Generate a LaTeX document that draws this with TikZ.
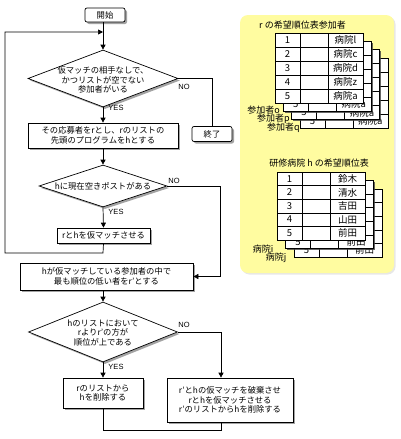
\documentclass[tikz,border=0pt]{standalone}
\usepackage{fontspec}
\setmainfont{Noto Sans CJK JP}
\newfontfamily\yesno{Liberation Sans}
\usetikzlibrary{shapes.geometric,arrows.meta,shadows,calc}
\definecolor{panel}{RGB}{255,252,160}
\definecolor{shd}{RGB}{140,140,140}

\newcommand{\tabframe}[2]{%
\fill[white, drop shadow={shadow xshift=1.2pt,shadow yshift=-1.2pt,fill=black!75,opacity=0.8}] (0,0) rectangle (88,5*#1);
\draw[tl] (0,0) rectangle (88,5*#1);
\foreach \k in {1,...,4} \draw[tl] (0,\k*#1) -- (88,\k*#1);
\draw[tl] (25,0) -- (25,5*#1) (53,0) -- (53,5*#1);}

\newcommand{\rtab}[5]{%
\begin{scope}[shift={(#1,#2)}]
\tabframe{#3}{}
\foreach \n [count=\i] in {#4} {
 \node[tabt] (#5n\i) at (12.5,{(\i-0.5)*#3}) {\i};
 \node[tabt] (#5m\i) at (70.5,{(\i-0.5)*#3}) {\n};
}
\end{scope}}

\newcommand{\rtabback}[5]{%
\begin{scope}[shift={(#1,#2)}]
\tabframe{#3}{}
\node[tabt] (#5n5) at (12.5,{4.5*#3}) {5};
\node[tabt] (#5m5) at (70.5,{4.5*#3}) {#4};
\end{scope}}

\begin{document}
\begin{tikzpicture}[x=1pt,y=-1pt,
  every node/.style={font=\fontsize{8.3}{9.8}\selectfont, inner sep=0pt},
  box/.style={draw, fill=white, line width=0.7pt, align=center,
    drop shadow={shadow xshift=2pt,shadow yshift=-2pt,fill=shd,opacity=0.8}},
  rbox/.style={box, rounded corners=2pt},
  dia/.style={diamond, draw, fill=white, line width=0.7pt,
    drop shadow={shadow xshift=2pt,shadow yshift=-2pt,fill=shd,opacity=0.8}},
  dtxt/.style={align=center},
  lab/.style={font=\yesno\fontsize{7.5}{8}\selectfont},
  arr/.style={line width=0.7pt, -{Triangle[length=5pt,width=5pt]}},
  ln/.style={line width=0.7pt},
  tl/.style={line width=0.6pt},
  tabt/.style={font=\fontsize{9.5}{10}\selectfont},
  ttl/.style={font=\fontsize{9}{10}\selectfont},
  side/.style={font=\fontsize{9}{10}\selectfont},
]
\useasboundingbox (0,0) rectangle (400,439);
\fill[white] (0,0) rectangle (400,439);

% ---------------- flowchart ----------------
\node[rbox, minimum width=40pt, minimum height=14pt] (start) at (105,15) {開始};
\node[dia, minimum width=150pt, minimum height=57pt] (d1) at (103,78.5) {};
\node[dtxt] (d1t) at (103,80) {仮マッチの相手なしで、\\かつリストが空でない\\参加者がいる};
\node[rbox, minimum width=40pt, minimum height=15pt] (end) at (212,134) {終了};
\node[box, minimum width=150pt, minimum height=25pt] (b2) at (103,135.5) {その応募者をrとし、rのリストの\\先頭のプログラムをhとする};
\node[dia, minimum width=128pt, minimum height=42pt] (d2) at (103,186) {};
\node[dtxt] (d2t) at (103,186) {hに現在空きポストがある};
\node[box, minimum width=93pt, minimum height=15pt] (rh) at (103.5,235.5) {rとhを仮マッチさせる};
\node[box, minimum width=173pt, minimum height=27pt] (b3) at (106.5,276.5) {hが仮マッチしている参加者の中で\\最も順位の低い者をr’とする};
\node[dia, minimum width=149pt, minimum height=60pt] (d3) at (103,332) {};
\node[dtxt] (d3t) at (103,333) {hのリストにおいて\\rよりr’の方が\\順位が上である};
\node[box, minimum width=80pt, minimum height=30pt] (lb) at (103,393) {rのリストから\\hを削除する};
\node[box, minimum width=126pt, minimum height=44pt] (rb) at (230,400) {r’とhの仮マッチを破棄させ\\rとhを仮マッチさせる\\r’のリストからhを削除する};

\coordinate (c2) at (220,276.5);
\coordinate (c3) at (221,0);
\coordinate (la) at (103,253);
\coordinate (lb1) at (5,253);
\coordinate (lc) at (5,32);
\coordinate (ld) at (103,32);
\coordinate (bj) at (103,430);

\draw[arr] (start.south -| d1.north) -- (d1.north);
\draw[ln] (d1.east) -| (end.north);
\draw[arr] (d1.south) -- (b2.north);
\draw[arr] (b2.south) -- (d2.north);
\draw[arr] (d2.east) -| (c2) -- (b3.east);
\draw[arr] (d2.south) -- (rh.north);
\draw[arr] (rh.south) -- (la) -- (lb1) -- (lc) -- (ld);
\draw[arr] (b3.south -| d3.north) -- (d3.north);
\draw[arr] (d3.east) -| (c3 |- rb.north);
\draw[arr] (d3.south) -- (lb.north);
\draw[ln] (lb.south) -- (bj) -| (c3 |- rb.south);

\node[lab] (no1) at (184,87) {NO};
\node[lab] (yes1) at (116,108) {YES};
\node[lab] (no2) at (174,181) {NO};
\node[lab] (yes2) at (116,212) {YES};
\node[lab] (no3) at (184,325) {NO};
\node[lab] (yes3) at (116,367) {YES};

% ---------------- panel ----------------
\fill[panel, rounded corners=8pt, drop shadow={shadow xshift=1.5pt,shadow yshift=-1.5pt,fill=black!18}] (240,15) rectangle (394,273);
\node[ttl] (t1) at (302.5,25) {r の希望順位表参加者};
\rtabback{299.9}{57.9}{14}{病院a}{A3}
\rtabback{291.6}{49.6}{14}{病院a}{A2}
\rtabback{283.3}{41.3}{14}{病院a}{A1}
\rtab{275}{33}{14}{病院l,病院c,病院d,病院z,病院a}{A0}
\node[side] (po) at (263.5,110) {参加者o};
\node[side] (pp) at (273.5,119) {参加者p};
\node[side] (pq) at (283.5,128) {参加者q};

\node[ttl] (t2) at (319,163) {研修病院 h の希望順位表};
\rtabback{294}{189}{13.6}{前田}{B2}
\rtabback{285.5}{180.5}{13.6}{前田}{B1}
\rtab{277}{172}{13.6}{鈴木,清水,吉田,山田,前田}{B0}
\node[side] (hi) at (263,249) {病院i};
\node[side] (hj) at (276,258) {病院j};
\end{tikzpicture}
\end{document}
